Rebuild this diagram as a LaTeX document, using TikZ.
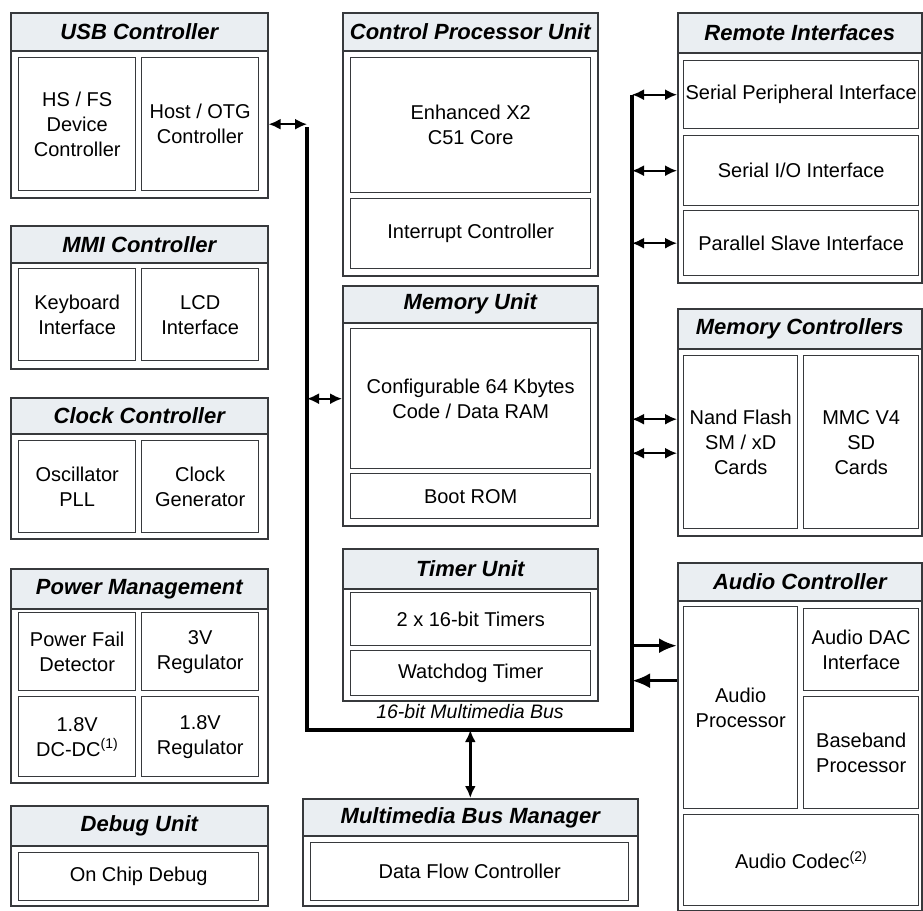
\documentclass[tikz,border=0pt]{standalone}
\usepackage{fontspec}
\setmainfont{Liberation Sans}
\usetikzlibrary{arrows.meta,positioning,calc}
\definecolor{BDLine}{RGB}{55,57,60}
\definecolor{BDTitle}{RGB}{234,238,242}

\begin{document}
\begin{tikzpicture}[x=1pt,y=-1pt,
  sz/.style 2 args={minimum width=#1pt,minimum height=#2pt},
  frame/.style={anchor=north west,inner sep=0pt,draw=BDLine,line width=1.6pt,fill=white},
  title/.style={anchor=north west,inner sep=0pt,draw=BDLine,line width=1.6pt,fill=BDTitle,
                font=\fontsize{22}{24}\selectfont\bfseries\itshape},
  cell/.style={anchor=north west,inner sep=0pt,draw=BDLine,line width=1.4pt,fill=white,align=center,
               font=\fontsize{20}{25}\selectfont},
  bus/.style={line width=3.8pt,draw=black,line join=miter},
  dbl/.style={{Latex[length=12pt,width=11pt]}-{Latex[length=12pt,width=11pt]},line width=2pt},
  big/.style={-{Latex[length=18pt,width=15pt]},line width=3.4pt}
]
\useasboundingbox (0,0) rectangle (923,910);
% left column
\node[frame,sz={257}{185}] (usbF) at (10,12) {};
\node[title,sz={257}{38}] (usbT) at (10,12) {USB Controller};
\node[cell,sz={117}{133}] (hsfs) at (18,57) {HS / FS\\Device\\Controller};
\node[cell,sz={117}{133}] (host) at (141,57) {Host / OTG\\Controller};
\node[frame,sz={257}{143}] (mmiF) at (10,225) {};
\node[title,sz={257}{37}] (mmiT) at (10,225) {MMI Controller};
\node[cell,sz={117}{92}] (kbd) at (18,268) {Keyboard\\Interface};
\node[cell,sz={117}{92}] (lcd) at (141,268) {LCD\\Interface};
\node[frame,sz={257}{141}] (clkF) at (10,397) {};
\node[title,sz={257}{36}] (clkT) at (10,397) {Clock Controller};
\node[cell,sz={117}{92}] (osc) at (18,440) {Oscillator\\PLL};
\node[cell,sz={117}{92}] (clkgen) at (141,440) {Clock\\Generator};
\node[frame,sz={257}{214}] (pwrF) at (10,568) {};
\node[title,sz={257}{40}] (pwrT) at (10,568) {Power Management};
\node[cell,sz={117}{78}] (pfd) at (18,612) {Power Fail\\Detector};
\node[cell,sz={117}{78}] (reg3) at (141,612) {3V\\Regulator};
\node[cell,sz={117}{80}] (dcdc) at (18,696) {1.8V\\DC-DC\textsuperscript{(1)}};
\node[cell,sz={117}{80}] (reg18) at (141,696) {1.8V\\Regulator};
\node[frame,sz={257}{100}] (dbgF) at (10,805) {};
\node[title,sz={257}{40}] (dbgT) at (10,805) {Debug Unit};
\node[cell,sz={240}{48}] (ocd) at (18,852) {On Chip Debug};
% middle column
\node[frame,sz={255}{263}] (cpuF) at (342,12) {};
\node[title,sz={255}{38}] (cpuT) at (342,12) {Control Processor Unit};
\node[cell,sz={240}{135}] (core) at (350,57) {Enhanced X2\\C51 Core};
\node[cell,sz={240}{70}] (irq) at (350,198) {Interrupt Controller};
\node[frame,sz={255}{240}] (memF) at (342,285) {};
\node[title,sz={255}{37}] (memT) at (342,285) {Memory Unit};
\node[cell,sz={240}{140}] (ram) at (350,328) {Configurable 64 Kbytes\\Code / Data RAM};
\node[cell,sz={240}{45}] (rom) at (350,473) {Boot ROM};
\node[frame,sz={255}{152}] (tmrF) at (342,548) {};
\node[title,sz={255}{40}] (tmrT) at (342,548) {Timer Unit};
\node[cell,sz={240}{53}] (tmr) at (350,592) {2 x 16-bit Timers};
\node[cell,sz={240}{45}] (wdt) at (350,650) {Watchdog Timer};
\node[frame,sz={335}{107}] (mbmF) at (302,798) {};
\node[title,sz={335}{37}] (mbmT) at (302,798) {Multimedia Bus Manager};
\node[cell,sz={318}{58}] (dfc) at (310,842) {Data Flow Controller};
% right column
\node[frame,sz={244}{270}] (remF) at (677,12) {};
\node[title,sz={244}{40}] (remT) at (677,12) {Remote Interfaces};
\node[cell,sz={235}{68}] (spi) at (683,60) {Serial Peripheral Interface};
\node[cell,sz={235}{70}] (sio) at (683,135) {Serial I/O Interface};
\node[cell,sz={235}{65}] (psi) at (683,210) {Parallel Slave Interface};
\node[frame,sz={244}{227}] (mcF) at (677,308) {};
\node[title,sz={244}{40}] (mcT) at (677,308) {Memory Controllers};
\node[cell,sz={114}{173}] (nand) at (683,355) {Nand Flash\\SM / xD\\Cards};
\node[cell,sz={115}{173}] (mmc) at (803,355) {MMC V4\\SD\\Cards};
\node[frame,sz={244}{348}] (audF) at (677,562) {};
\node[title,sz={244}{38}] (audT) at (677,562) {Audio Controller};
\node[cell,sz={114}{202}] (aproc) at (683,606) {Audio\\Processor};
\node[cell,sz={115}{82}] (dac) at (803,608) {Audio DAC\\Interface};
\node[cell,sz={115}{112}] (bb) at (803,696) {Baseband\\Processor};
\node[cell,sz={235}{91}] (codec) at (683,814) {Audio Codec\textsuperscript{(2)}};
% multimedia bus
\coordinate (busTL) at (307,127);
\coordinate (busBL) at (307,730);
\coordinate (busBR) at (632,730);
\coordinate (busTR) at (632,95);
\draw[bus] (busTL) -- (busBL) -- (busBR) -- (busTR);
\node[font=\fontsize{19.5}{21}\selectfont\itshape] (busL) at (470,712) {16-bit Multimedia Bus};
\draw[dbl] (usbF.east |- host) -- (host -| busTL); \draw[dbl] (memF.west |- ram) -- (ram -| busTL);
\draw[dbl] (remF.west |- spi) -- (spi -| busTR); \draw[dbl] (remF.west |- sio) -- (sio -| busTR);
\draw[dbl] (remF.west |- psi) -- (psi -| busTR);
\draw[dbl] ([yshift=23pt]mcF.west |- nand) -- ([yshift=23pt]nand -| busTR);
\draw[dbl] ([yshift=-11pt]mcF.west |- nand) -- ([yshift=-11pt]nand -| busTR);
\draw[big] ([yshift=62pt]aproc -| busTR) -- ([yshift=62pt]audF.west |- aproc);
\draw[big] ([yshift=27pt]audF.west |- aproc) -- ([yshift=27pt]aproc -| busTR);
\draw[dbl,line width=2.6pt] (mbmF.north) -- (mbmF.north |- busBL);
\end{tikzpicture}
\end{document}
